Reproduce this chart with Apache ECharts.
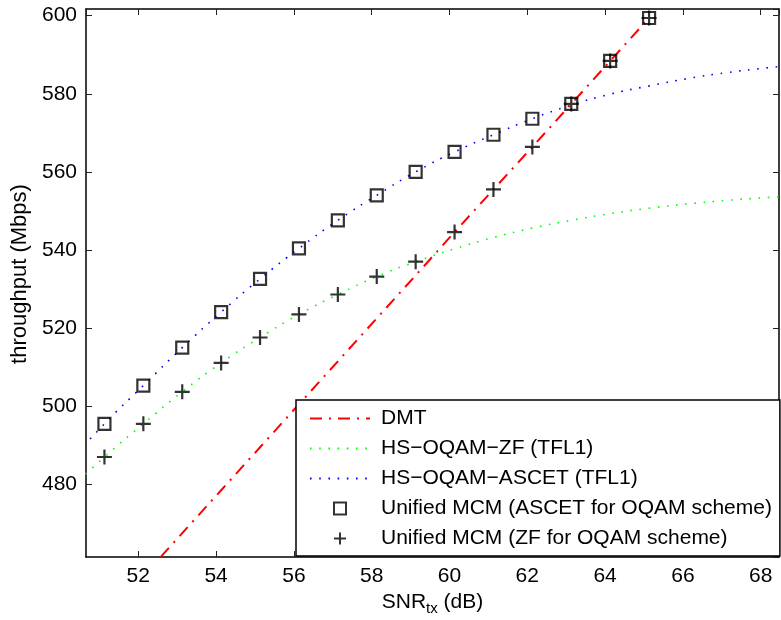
<!DOCTYPE html>
<html>
<head>
<meta charset="utf-8">
<script src="https://cdn.jsdelivr.net/npm/echarts@6/dist/echarts.min.js"></script>
<style>
html,body{margin:0;padding:0;background:#fff;}
#chart{width:781px;height:620px;}
</style>
</head>
<body>
<div id="chart"></div>
<script>
// ---- data ----
var markerSnr = [51.13, 52.13, 53.13, 54.13, 55.13, 56.13, 57.13, 58.13, 59.13, 60.13, 61.13, 62.13, 63.13, 64.13, 65.13];
var curveSnr = [50.13, 51.13, 52.13, 53.13, 54.13, 55.13, 56.13, 57.13, 58.13, 59.13, 60.13, 61.13, 62.13, 63.13, 64.13, 65.13, 66.13, 67.13, 68.13, 69.13];
var dmt = [445.5, 456.5, 467.5, 478.5, 489.5, 500.5, 511.5, 522.5, 533.5, 544.6, 555.5, 566.4, 577.4, 588.4, 599.4];
var hsOqamZf = [477.8, 487.0, 495.5, 503.7, 511.1, 517.6, 523.5, 528.6, 533.2, 537.0, 540.3, 543.2, 545.6, 547.6, 549.3, 550.7, 551.8, 552.7, 553.4, 554.0];
var hsOqamAscet = [484.6, 495.5, 505.3, 515.0, 524.1, 532.6, 540.4, 547.6, 554.0, 560.0, 565.1, 569.5, 573.6, 577.1, 579.9, 582.0, 583.9, 585.4, 586.6, 587.6];
var unifiedAscet = [495.5, 505.3, 515.0, 524.1, 532.6, 540.4, 547.6, 554.0, 560.0, 565.1, 569.5, 573.6, 577.4, 588.4, 599.4];
var unifiedZf = [487.0, 495.5, 503.7, 511.1, 517.6, 523.5, 528.6, 533.2, 537.0, 544.6, 555.5, 566.4, 577.4, 588.4, 599.4];
var seriesNames = ['DMT', 'HS\u2212OQAM\u2212ZF (TFL1)', 'HS\u2212OQAM\u2212ASCET (TFL1)', 'Unified MCM (ASCET for OQAM scheme)', 'Unified MCM (ZF for OQAM scheme)'];
var xRange = [50.656, 68.47];
var yRange = [461.4, 601.7];

function pairs(xs, ys) { return xs.map(function (x, i) { return [x, ys[i]]; }); }

var FONT = 'Liberation Sans, Arial, Helvetica, sans-serif';
var squarePath = 'path://M0,0L10,0L10,10L0,10Z';
var plusPath = 'path://M0,5L10,5M5,0L5,10';
var CLEAR = 'rgba(0,0,0,0)';

var chart = echarts.init(document.getElementById('chart'), null, {renderer: 'canvas'});

function axisBase(extra) {
  var base = {
    type: 'value',
    scale: true,
    axisLine: {show: true, onZero: false, lineStyle: {color: '#000', width: 1.5}},
    axisTick: {show: true, inside: true, length: 6, lineStyle: {color: '#222', width: 1}},
    splitLine: {show: false},
    axisLabel: {show: false}
  };
  for (var k in extra) base[k] = extra[k];
  return base;
}

var option = {
  backgroundColor: '#fff',
  animation: false,
  grid: {left: 86, right: 2, top: 9, bottom: 63, containLabel: false, outerBoundsMode: 'none'},
  xAxis: [
    axisBase({
      position: 'bottom', min: xRange[0], max: xRange[1], splitNumber: 9,
      axisLabel: {show: true, showMinLabel: false, showMaxLabel: false, margin: 9,
        color: '#000', fontSize: 21, fontFamily: FONT},
      name: '{a|SNR}{s|tx}{a| (dB)}', nameLocation: 'middle', nameGap: 30,
      nameTextStyle: {rich: {
        a: {fontSize: 21, fontFamily: FONT, color: '#000'},
        s: {fontSize: 15, fontFamily: FONT, color: '#000', padding: [12, 0, 0, 0]}
      }}
    }),
    axisBase({position: 'top', min: xRange[0], max: xRange[1], splitNumber: 9})
  ],
  yAxis: [
    axisBase({
      position: 'left', min: yRange[0], max: yRange[1], splitNumber: 7,
      axisLabel: {show: true, showMinLabel: false, showMaxLabel: false, margin: 9,
        color: '#000', fontSize: 21, fontFamily: FONT},
      name: 'throughput (Mbps)', nameLocation: 'middle', nameGap: 51, nameRotate: 90,
      nameTextStyle: {fontSize: 22, fontFamily: FONT, color: '#000', padding: [0, 0, 0, 18]}
    }),
    axisBase({position: 'right', min: yRange[0], max: yRange[1], splitNumber: 7})
  ],
  legend: {
    orient: 'vertical',
    left: 296, top: 400,
    padding: [8, 8, 7, 13],
    itemWidth: 60, itemHeight: 12, itemGap: 9,
    backgroundColor: '#fff',
    borderColor: '#000', borderWidth: 1.5, borderRadius: 0,
    textStyle: {fontSize: 21, fontFamily: FONT, color: '#000', padding: [0, 0, 0, 6]},
    data: seriesNames
  },
  series: [
    {
      name: seriesNames[0], type: 'line', data: pairs(markerSnr, dmt),
      symbol: 'circle', showSymbol: false, clip: true, z: 3,
      lineStyle: {color: '#ff0000', width: 2, type: [12, 7, 2, 7]},
      itemStyle: {color: CLEAR, borderColor: CLEAR}
    },
    {
      name: seriesNames[1], type: 'line', data: pairs(curveSnr, hsOqamZf), smooth: true,
      symbol: 'circle', showSymbol: false, clip: true, z: 2,
      lineStyle: {color: '#00ff00', width: 1.6, type: [1.6, 7.6]},
      itemStyle: {color: CLEAR, borderColor: CLEAR}
    },
    {
      name: seriesNames[2], type: 'line', data: pairs(curveSnr, hsOqamAscet), smooth: true,
      symbol: 'circle', showSymbol: false, clip: true, z: 2,
      lineStyle: {color: '#0000ff', width: 1.6, type: [1.6, 7.6]},
      itemStyle: {color: CLEAR, borderColor: CLEAR}
    },
    {
      name: seriesNames[3], type: 'scatter', data: pairs(markerSnr, unifiedAscet),
      symbol: squarePath, symbolSize: 12, z: 4,
      itemStyle: {color: 'none', borderColor: '#000', borderWidth: 2.2}
    },
    {
      name: seriesNames[4], type: 'scatter', data: pairs(markerSnr, unifiedZf),
      symbol: plusPath, symbolSize: 15, z: 5,
      itemStyle: {color: 'none', borderColor: '#000', borderWidth: 2.2}
    }
  ]
};
chart.setOption(option);
</script>
</body>
</html>
